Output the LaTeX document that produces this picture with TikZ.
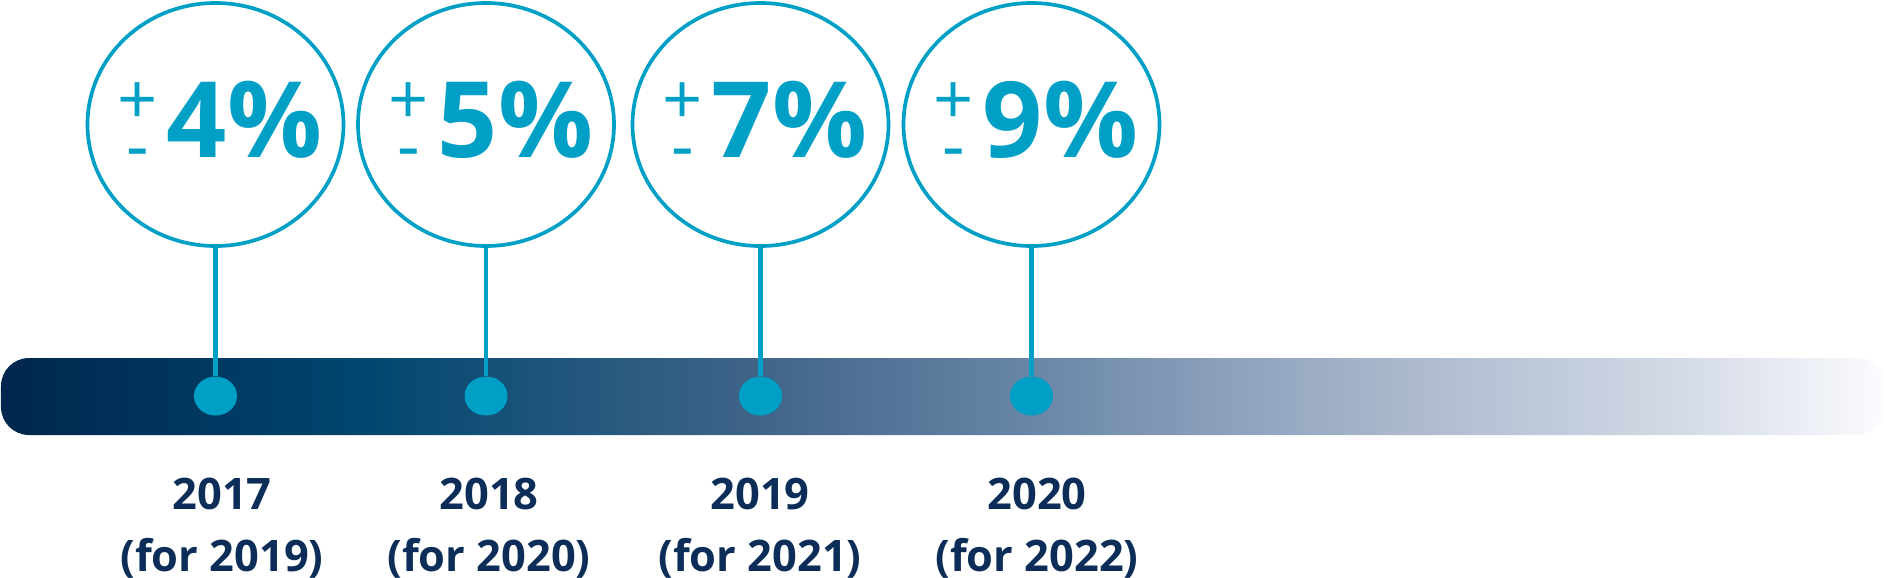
\documentclass[tikz,border=0pt]{standalone}
\usepackage{fontspec}
\setmainfont{Open Sans}
\usetikzlibrary{shapes.geometric}
\definecolor{ringblue}{HTML}{00A0C6}
\definecolor{yearnavy}{HTML}{0B2D58}
\definecolor{barA}{HTML}{00264D}
\definecolor{barB}{HTML}{00466F}
\definecolor{barC}{HTML}{3F6488}
\definecolor{barD}{HTML}{6A87A8}
\definecolor{barE}{HTML}{A7B5CB}
\definecolor{barF}{HTML}{D6DCE8}
\definecolor{barG}{HTML}{FBFCFE}
\pgfdeclarehorizontalshading{barshade}{100bp}{color(0bp)=(barA); color(25bp)=(barA);
  color(34.5bp)=(barB); color(45bp)=(barC); color(52.5bp)=(barD); color(61.5bp)=(barE);
  color(70bp)=(barF); color(75bp)=(barG); color(100bp)=(barG)}
% small stacked plus/minus in front of the figure
\newcommand\pmsign{{\fontsize{20pt}{20pt}\selectfont\mdseries
  \ooalign{\raisebox{9.6pt}{+}\cr\hidewidth\raisebox{-3.6pt}{-}\hidewidth\cr}}\hspace{2.5pt}}
\begin{document}
\begin{tikzpicture}[
  ring/.style={draw=ringblue,line width=1.05pt,ellipse,minimum width=2.56cm,minimum height=2.43cm,inner sep=0pt},
  pct/.style={text=ringblue,font=\fontsize{30pt}{30pt}\selectfont\bfseries,inner sep=0pt},
  dot/.style={fill=ringblue,ellipse,minimum width=0.43cm,minimum height=0.39cm,inner sep=0pt},
  stem/.style={draw=ringblue,line width=1.3pt},
  year/.style={text=yearnavy,font=\fontsize{12.35pt}{17.6pt}\selectfont\bfseries,align=center,anchor=north,inner sep=0pt}]
\useasboundingbox (0,0) rectangle (18.88,-5.77);
\shade[shading=barshade,rounded corners=0.28cm] (0.01,-3.58) rectangle (18.85,-4.35);
% rings
\node[ring] (r17) at (2.155,-1.245) {};
\node[ring] (r18) at (4.86,-1.245) {};
\node[ring] (r19) at (7.605,-1.245) {};
\node[ring] (r20) at (10.315,-1.245) {};
\node[pct] (p17) at (2.20,-1.26) {\pmsign 4\%};
\node[pct] (p18) at (4.91,-1.26) {\pmsign 5\%};
\node[pct] (p19) at (7.65,-1.26) {\pmsign 7\%};
\node[pct] (p20) at (10.36,-1.26) {\pmsign 9\%};
% dots on the bar
\node[dot] (d17) at (2.155,-3.96) {};
\node[dot] (d18) at (4.86,-3.96) {};
\node[dot] (d19) at (7.605,-3.96) {};
\node[dot] (d20) at (10.315,-3.96) {};
\draw[stem] (r17.south) -- (d17.north);
\draw[stem] (r18.south) -- (d18.north);
\draw[stem] (r19.south) -- (d19.north);
\draw[stem] (r20.south) -- (d20.north);
% years
\node[year] (y17) at (2.22,-4.77) {2017\\(for 2019)};
\node[year] (y18) at (4.89,-4.77) {2018\\(for 2020)};
\node[year] (y19) at (7.60,-4.77) {2019\\(for 2021)};
\node[year] (y20) at (10.37,-4.77) {2020\\(for 2022)};
\end{tikzpicture}
\end{document}
